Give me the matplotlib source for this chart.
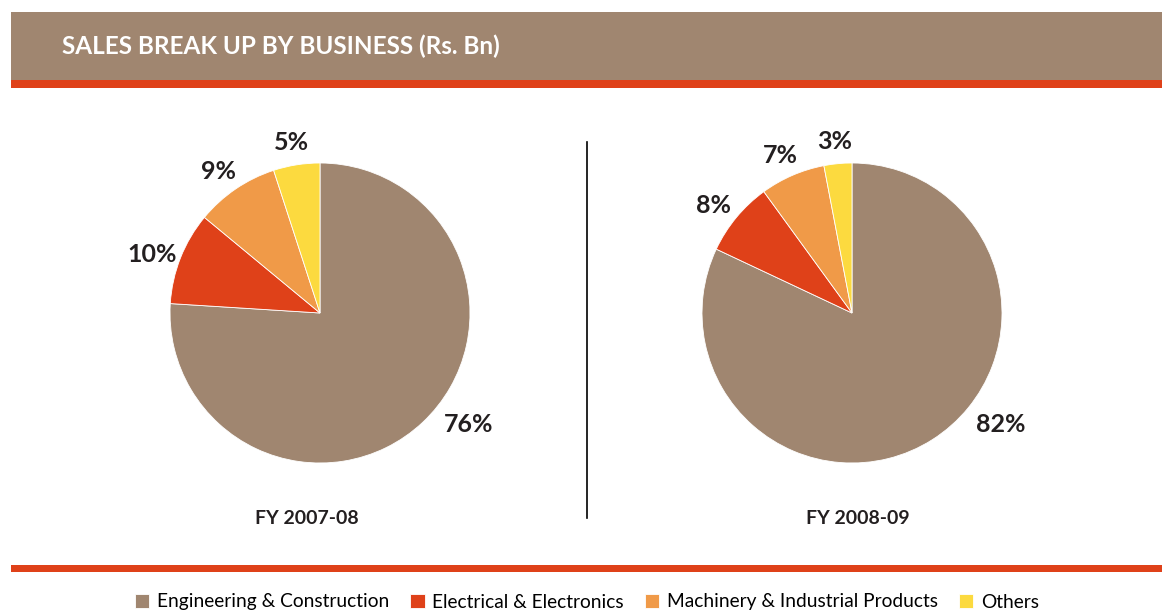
import numpy as np
import matplotlib.pyplot as plt
from matplotlib.patches import Rectangle
from matplotlib.lines import Line2D

plt.rcParams['font.family'] = ['Lato', 'DejaVu Sans']

categories = ["Engineering & Construction", "Electrical & Electronics",
              "Machinery & Industrial Products", "Others"]
share_0708 = [76, 10, 9, 5]
share_0809 = [82, 8, 7, 3]
years = ["FY 2007-08", "FY 2008-09"]
colors = ["#A08670", "#DF4119", "#F09A48", "#FCDA3F"]

W, H = 1162, 612
fig = plt.figure(figsize=(W / 100, H / 100), dpi=100)


def px_box(x, y, w, h):
    # pixel box (top-left origin) -> figure fraction
    return [x / W, (H - y - h) / H, w / W, h / H]


# header band
fig.patches.append(Rectangle((11 / W, (H - 80) / H), 1 - 11 / W, 68 / H,
                             transform=fig.transFigure, color="#A08670", lw=0))
fig.patches.append(Rectangle((11 / W, (H - 88) / H), 1 - 11 / W, 8 / H,
                             transform=fig.transFigure, color="#DF4119", lw=0))
fig.text(62 / W, (H - 46) / H, "SALES BREAK UP BY BUSINESS (Rs. Bn)",
         color="white", fontsize=17.5, fontweight="bold", va="center", ha="left")

# bottom rule
fig.patches.append(Rectangle((11 / W, (H - 572) / H), 1 - 11 / W, 7 / H,
                             transform=fig.transFigure, color="#DF4119", lw=0))

# divider
fig.lines.append(Line2D([587 / W, 587 / W], [(H - 518) / H, (H - 142) / H],
                        transform=fig.transFigure, color="black", lw=1.2))


def draw_pie(cx, values, year, yoff):
    ax = fig.add_axes(px_box(cx - 150, 163, 300, 300))
    wedges, texts = ax.pie(values, colors=colors, startangle=90, counterclock=False,
                           labels=[f"{v}%" for v in values], labeldistance=1.2,
                           wedgeprops=dict(linewidth=0.6, edgecolor="white"),
                           textprops=dict(fontsize=18, color="#231F20",
                                          fontweight="bold"))
    for t in texts:
        t.set_ha("center")
        t.set_va("center")
        x, y = t.get_position()
        t.set_position((x, y - 0.05))
    # the big slice label sits lower on the right
    ang = np.deg2rad(-37)
    texts[0].set_position((1.24 * np.cos(ang), 1.24 * np.sin(ang)))
    ax.set_xlim(-1, 1)
    ax.set_ylim(-1, 1)
    ax.set_aspect("equal")
    fig.text((cx + yoff) / W, (H - 518) / H, year,
             fontsize=14, fontweight="bold", ha="center", va="center", color="#231F20")
    return wedges


wedges = draw_pie(320, share_0708, years[0], -13)
draw_pie(852, share_0809, years[1], 6)

fig.legend(wedges, categories, loc="center", bbox_to_anchor=(587 / W, (H - 602) / H),
           ncol=4, frameon=False, fontsize=13.8, handlelength=0.75, handleheight=0.75,
           handletextpad=0.4, columnspacing=1.1, borderpad=0)

fig.savefig("out.png", dpi=100)
